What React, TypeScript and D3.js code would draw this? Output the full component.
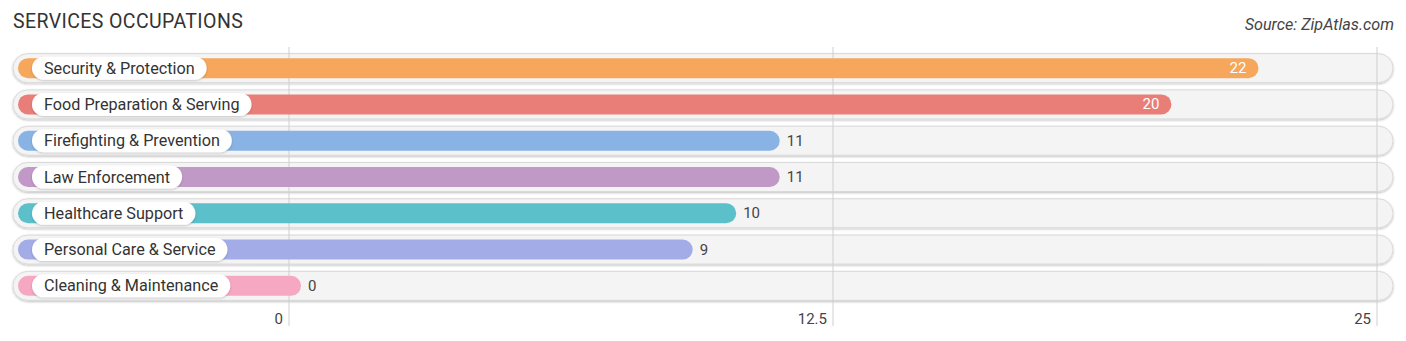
import React from "react";
import * as d3 from "d3";

const categories = [
  "Security & Protection",
  "Food Preparation & Serving",
  "Firefighting & Prevention",
  "Law Enforcement",
  "Healthcare Support",
  "Personal Care & Service",
  "Cleaning & Maintenance",
];
const values = [22, 20, 11, 11, 10, 9, 0];
const colors = ["#F6A75B", "#E97E79", "#89B3E4", "#C199C7", "#5BC0CA", "#A4ACE8", "#F6A7C2"];
const tickValues = [0, 12.5, 25];
const tickLabels = ["0", "12.5", "25"];

const W = 1406;
const H = 341;
const LABEL_FS = 16.2;

export default function App() {
  const x = d3.scaleLinear().domain([0, 25]).range([289, 1377]);
  const y = d3.scaleBand().domain(categories).range([50, 304]).paddingInner(0).paddingOuter(0);
  const measure = (t: string) => {
    if (typeof document === "undefined") return t.length * 8;
    const cv = document.createElement("canvas");
    const ctx = cv.getContext("2d")!;
    ctx.font = `${LABEL_FS}px Roboto`;
    return ctx.measureText(t).width;
  };
  return (
    <svg width={W} height={H} style={{ position: "absolute", left: 0, top: 0, fontFamily: "Roboto, sans-serif" }}>
      <defs>
        <filter id="sh" x="-5%" y="-30%" width="110%" height="160%">
          <feDropShadow dx="0" dy="1" stdDeviation="1.2" floodColor="#000" floodOpacity="0.25" />
        </filter>
        <filter id="sh2" x="-10%" y="-30%" width="120%" height="160%">
          <feDropShadow dx="0" dy="1" stdDeviation="1" floodColor="#000" floodOpacity="0.2" />
        </filter>
      </defs>
      <text x={13} y={28} fontSize={19.5} fill="#333" style={{ letterSpacing: "0.4px" }}>SERVICES OCCUPATIONS</text>
      <text x={1394} y={30} fontSize={16.2} fill="#444" fontStyle="italic" textAnchor="end">Source: ZipAtlas.com</text>
      {categories.map((c, i) => {
        const cy = (y(c) as number) + y.bandwidth() / 2;
        return (
          <rect key={"bg" + i} x={13} y={cy - 14.5} width={1380} height={29} rx={14.5} fill="#f4f4f4" stroke="#d9d9d9" strokeWidth={1} filter="url(#sh)" />
        );
      })}
      {tickValues.map((t, i) => (
        <g key={"t" + i}>
          <line x1={x(t)} x2={x(t)} y1={47} y2={326} stroke="#cfcfcf" strokeWidth={1} />
          <text x={x(t) - 6} y={324} fontSize={15} fill="#444" textAnchor="end">{tickLabels[i]}</text>
        </g>
      ))}
      {categories.map((c, i) => {
        const cy = (y(c) as number) + y.bandwidth() / 2;
        const end = x(values[i]) + 12;
        const lw = measure(c) + 24;
        const inside = values[i] >= 15;
        return (
          <g key={"b" + i}>
            <rect x={18} y={cy - 10} width={end - 18} height={20} rx={10} fill={colors[i]} />
            <rect x={32} y={cy - 11.5} width={lw} height={23} rx={11.5} fill="#fff" filter="url(#sh2)" />
            <text x={44} y={cy + 5.5} fontSize={LABEL_FS} fill="#333">{c}</text>
            {inside ? (
              <text x={end - 12} y={cy + 5} fontSize={15} fill="#fff" textAnchor="end">{values[i]}</text>
            ) : (
              <text x={end + 7} y={cy + 5} fontSize={15} fill="#444">{values[i]}</text>
            )}
          </g>
        );
      })}
    </svg>
  );
}
